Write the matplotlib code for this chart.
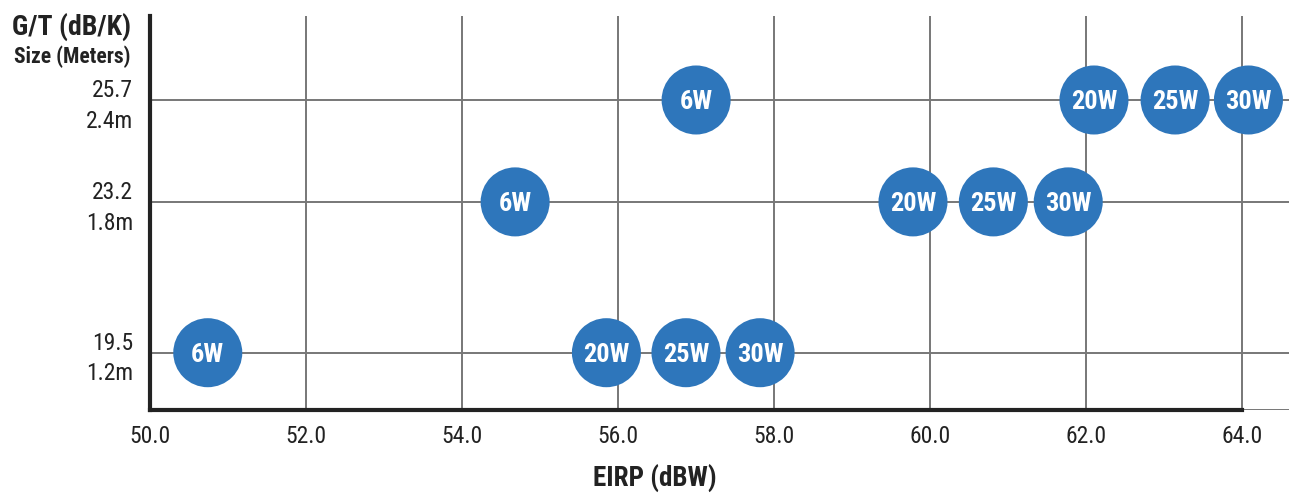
import matplotlib.pyplot as plt
from matplotlib import font_manager

# EIRP (dBW) of each terminal, grouped by antenna size
eirp_12m = [50.74, 55.85, 56.87, 57.82]
eirp_18m = [54.68, 59.78, 60.81, 61.77]
eirp_24m = [57.0, 62.1, 63.14, 64.08]
labels_12m = ['6W', '20W', '25W', '30W']
labels_18m = ['6W', '20W', '25W', '30W']
labels_24m = ['6W', '20W', '25W', '30W']

gt_values = [19.5, 23.2, 25.7]
sizes = ['1.2m', '1.8m', '2.4m']
x_ticks = [50.0, 52.0, 54.0, 56.0, 58.0, 60.0, 62.0, 64.0]

# narrow sans for the whole chart, first one that is installed
names = {f.name for f in font_manager.fontManager.ttflist}
font = 'DejaVu Sans'
for cand in ['Roboto Condensed', 'Archivo Narrow', 'Liberation Sans Narrow',
             'IBM Plex Sans Condensed']:
    if cand in names:
        font = cand
        break
plt.rcParams['font.family'] = [font, 'DejaVu Sans']

blue = '#2e76bb'
dark = '#222222'
grid = '#777777'
fig = plt.figure(figsize=(12.89, 4.93), dpi=100)
ax = fig.add_axes([0.1164, 0.168, 0.8836, 0.7995])

ax.set_xlim(50.0, 64.6)
ax.set_ylim(18.09, 27.76)

for v in x_ticks:
    ax.axvline(v, color=grid, lw=1.4, zorder=1)
for v in gt_values:
    ax.axhline(v, color=grid, lw=1.4, zorder=1)
ax.axhline(18.09, color=grid, lw=1.4, zorder=1)

rows = [(eirp_12m, labels_12m, gt_values[0]),
        (eirp_18m, labels_18m, gt_values[1]),
        (eirp_24m, labels_24m, gt_values[2])]
for xs, labs, gt in rows:
    ax.scatter(xs, [gt] * len(xs), s=2470, color=blue, edgecolors='none', zorder=3)
    for x, lab in zip(xs, labs):
        ax.text(x, gt - 0.06, lab, color='white', fontsize=19, fontweight='bold',
                ha='center', va='center', zorder=4)

ax.set_xticks(x_ticks)
ax.set_xticklabels(['%.1f' % v for v in x_ticks], fontsize=17, color=dark)
ax.set_yticks(gt_values)
ax.set_yticklabels(['%s\n%s' % (g, s) for g, s in zip(gt_values, sizes)],
                   fontsize=17, color=dark, linespacing=1.4)
for t in ax.get_yticklabels():
    t.set_multialignment('right')
ax.tick_params(axis='x', length=0, pad=11)
ax.tick_params(axis='y', length=0, pad=12)

for side in ['top', 'right']:
    ax.spines[side].set_visible(False)
for side in ['left', 'bottom']:
    ax.spines[side].set_linewidth(3)
    ax.spines[side].set_color(dark)
    ax.spines[side].set_zorder(2)
ax.spines['bottom'].set_bounds(50.0, 64.0)

fig.text(131 / 1289, 1 - 27 / 493, 'G/T (dB/K)', fontsize=20, fontweight='bold',
         ha='right', va='center', color=dark)
fig.text(131 / 1289, 1 - 57 / 493, 'Size (Meters)', fontsize=15.5, fontweight='bold',
         ha='right', va='center', color=dark)
fig.text(655 / 1289, 1 - 479 / 493, 'EIRP (dBW)', fontsize=19.5, fontweight='bold',
         ha='center', va='center', color=dark)

fig.savefig('out.png', dpi=100)
